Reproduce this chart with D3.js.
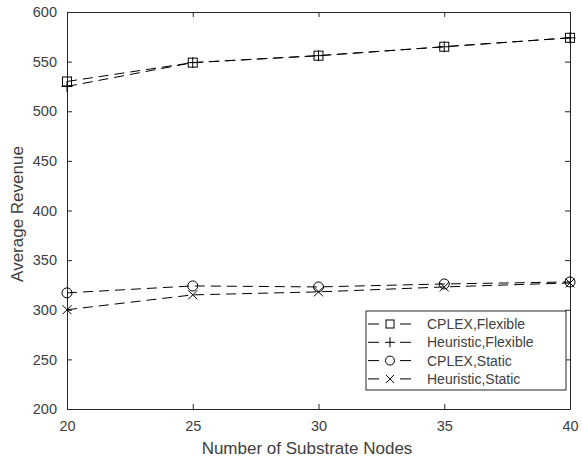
<!DOCTYPE html>
<html>
<head>
<meta charset="utf-8">
<script src="https://cdn.jsdelivr.net/npm/d3@7"></script>
<style>
  body { margin: 0; background: #fff; }
  text { font-family: "Liberation Sans", Arial, sans-serif; fill: #404040; }
</style>
</head>
<body>
<svg id="chart"></svg>
<script>
// data
const nodes = [20, 25, 30, 35, 40];
const cplexFlexible = [530, 549, 556, 565, 574];
const heuristicFlexible = [525, 549, 556, 565, 574];
const cplexStatic = [317, 324, 323, 326, 328];
const heuristicStatic = [300, 315, 318, 323, 327];
const seriesNames = ["CPLEX,Flexible", "Heuristic,Flexible", "CPLEX,Static", "Heuristic,Static"];
const yTicks = [200, 250, 300, 350, 400, 450, 500, 550, 600];

const width = 582, height = 461;
const margin = {top: 12, right: 12, bottom: 52, left: 67};

const svg = d3.select("#chart")
    .attr("width", width)
    .attr("height", height);

const xScale = d3.scaleLinear()
    .domain([20, 40])
    .range([margin.left, width - margin.right]);

const yScale = d3.scaleLinear()
    .domain([200, 600])
    .range([height - margin.bottom, margin.top]);

const axisColor = "#262626";

// axes, ticks pointing inward like matlab
const xAxis = svg.append("g")
    .attr("transform", `translate(0,${height - margin.bottom})`)
    .call(d3.axisBottom(xScale).tickValues(nodes).tickSizeInner(-5).tickSizeOuter(0).tickPadding(12));

const xTop = svg.append("g")
    .attr("transform", `translate(0,${margin.top})`)
    .call(d3.axisTop(xScale).tickValues(nodes).tickSizeInner(-5).tickSizeOuter(0).tickFormat(""));

const yAxis = svg.append("g")
    .attr("transform", `translate(${margin.left},0)`)
    .call(d3.axisLeft(yScale).tickValues(yTicks).tickSizeInner(-5).tickSizeOuter(0).tickPadding(10));

const yRight = svg.append("g")
    .attr("transform", `translate(${width - margin.right},0)`)
    .call(d3.axisRight(yScale).tickValues(yTicks).tickSizeInner(-5).tickSizeOuter(0).tickFormat(""));

[xAxis, xTop, yAxis, yRight].forEach(g => {
    g.selectAll("path, line").attr("stroke", axisColor).attr("stroke-width", 1);
    g.selectAll("text").style("font-size", "14.5px").attr("fill", "#404040");
});

// axis labels
svg.append("text")
    .attr("x", 307)
    .attr("y", 454)
    .attr("text-anchor", "middle")
    .style("font-size", "17px")
    .text("Number of Substrate Nodes");

svg.append("text")
    .attr("transform", "translate(23,214) rotate(-90)")
    .attr("text-anchor", "middle")
    .style("font-size", "17px")
    .text("Average Revenue");

// lines
const allSeries = [cplexFlexible, heuristicFlexible, cplexStatic, heuristicStatic];
const markers = ["square", "plus", "circle", "cross"];

const line = d3.line()
    .x((d, i) => xScale(nodes[i]))
    .y(d => yScale(d));

function drawMarker(g, type, x, y, s) {
    if (type === "square") {
        g.append("rect").attr("x", x - s).attr("y", y - s).attr("width", 2 * s).attr("height", 2 * s)
            .attr("fill", "none").attr("stroke", "#000");
    } else if (type === "circle") {
        g.append("circle").attr("cx", x).attr("cy", y).attr("r", s + 0.5)
            .attr("fill", "none").attr("stroke", "#000");
    } else if (type === "plus") {
        g.append("path").attr("d", `M${x - s - 1},${y}H${x + s + 1}M${x},${y - s - 1}V${y + s + 1}`)
            .attr("stroke", "#000");
    } else {
        g.append("path").attr("d", `M${x - s},${y - s}L${x + s},${y + s}M${x - s},${y + s}L${x + s},${y - s}`)
            .attr("stroke", "#000");
    }
}

allSeries.forEach((vals, k) => {
    svg.append("path")
        .attr("d", line(vals))
        .attr("fill", "none")
        .attr("stroke", "#000")
        .attr("stroke-width", 1)
        .attr("stroke-dasharray", "10,6");
    const g = svg.append("g");
    vals.forEach((v, i) => drawMarker(g, markers[k], xScale(nodes[i]), yScale(v), 4.5));
});

// legend
const legend = svg.append("g");
legend.append("rect")
    .attr("x", 366).attr("y", 311)
    .attr("width", 200).attr("height", 79)
    .attr("fill", "#fff")
    .attr("stroke", axisColor);

seriesNames.forEach((name, k) => {
    const y = 324 + k * 18.3;
    legend.append("path")
        .attr("d", `M368,${y}H379M400,${y}H411`)
        .attr("stroke", "#000");
    drawMarker(legend, markers[k], 390, y, 4);
    legend.append("text")
        .attr("x", 427).attr("y", y + 5)
        .style("font-size", "14px")
        .text(name);
});
</script>
</body>
</html>
